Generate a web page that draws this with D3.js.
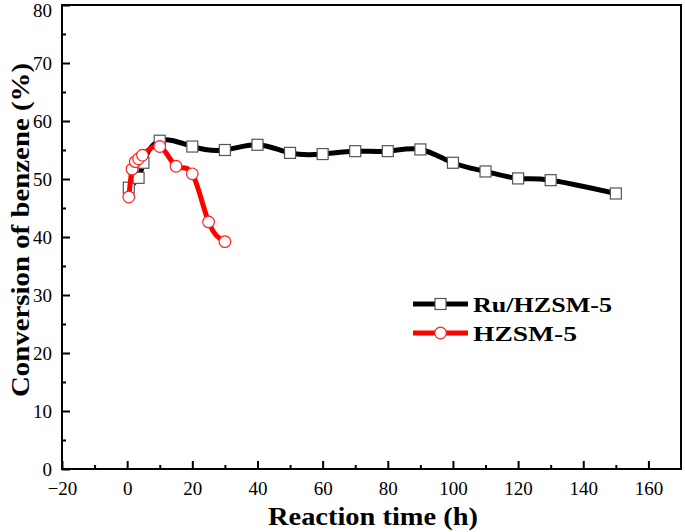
<!DOCTYPE html>
<html><head><meta charset="utf-8">
<script src="https://cdn.jsdelivr.net/npm/d3@7"></script>
<style>body{margin:0;background:#fff}svg{display:block}</style>
</head><body>
<svg id="c" width="685" height="532"></svg>
<script>
const ruTime = [0.5, 3.5, 5, 10, 20, 30, 40, 50, 60, 70, 80, 90, 100, 110, 120, 130, 150];
const ruConv = [48.5, 50.2, 52.8, 56.6, 55.6, 55.0, 55.9, 54.5, 54.3, 54.8, 54.8, 55.1, 52.8, 51.3, 50.1, 49.8, 47.5];
const hTime = [0.5, 1.5, 2.5, 3.5, 4.7, 10, 15, 20, 25, 30];
const hConv = [46.9, 51.7, 53.0, 53.5, 54.1, 55.6, 52.2, 50.9, 42.6, 39.2];
const xTicks = [-20, 0, 20, 40, 60, 80, 100, 120, 140, 160];
const yTicks = [0, 10, 20, 30, 40, 50, 60, 70, 80];
const seriesNames = ["Ru/HZSM-5", "HZSM-5"];

const svg = d3.select("#c");
const L = 62, R = 681, T = 5, B = 469;
const x = d3.scaleLinear().domain([-20, 170]).range([L, R]);
const y = d3.scaleLinear().domain([0, 80]).range([B, T]);
const serif = "'Liberation Serif','Times New Roman',serif";

const xMinor = d3.range(-10, 170, 20);
const yMinor = d3.range(5, 80, 10);
const axisG = svg.append("g");
const xAxis = d3.axisBottom(x).tickValues(xTicks).tickSize(-8).tickPadding(16).tickFormat(d3.format("d"));
const gx = axisG.append("g").attr("transform", `translate(0,${B})`).call(xAxis);
gx.select(".domain").remove();
gx.selectAll(".tick line").attr("stroke", "#000").attr("stroke-width", 2);
gx.selectAll("text").attr("font-family", serif).attr("font-size", 19).attr("fill", "#000").attr("dy", "0.55em");
gx.selectAll(".tick text").text(d => d < 0 ? "\u221220" : d);
const gxm = axisG.append("g").attr("transform", `translate(0,${B})`)
  .call(d3.axisBottom(x).tickValues(xMinor).tickSize(-4).tickFormat(""));
gxm.select(".domain").remove();
gxm.selectAll(".tick line").attr("stroke", "#000").attr("stroke-width", 2);

const yAxis = d3.axisLeft(y).tickValues(yTicks).tickSize(-8).tickPadding(10).tickFormat(d3.format("d"));
const gy = axisG.append("g").attr("transform", `translate(${L},0)`).call(yAxis);
gy.select(".domain").remove();
gy.selectAll(".tick line").attr("stroke", "#000").attr("stroke-width", 2);
gy.selectAll("text").attr("font-family", serif).attr("font-size", 19).attr("fill", "#000")
  .attr("dy", d => d === 80 ? "0.62em" : "0.32em");
const gym = axisG.append("g").attr("transform", `translate(${L},0)`)
  .call(d3.axisLeft(y).tickValues(yMinor).tickSize(-4).tickFormat(""));
gym.select(".domain").remove();
gym.selectAll(".tick line").attr("stroke", "#000").attr("stroke-width", 2);

svg.append("rect").attr("x", L).attr("y", T).attr("width", R - L).attr("height", B - T)
  .attr("fill", "none").attr("stroke", "#000").attr("stroke-width", 2);

const line = d3.line().x(d => x(d[0])).y(d => y(d[1])).curve(d3.curveNatural);
const ru = ruTime.map((t, i) => [t, ruConv[i]]);
const hz = hTime.map((t, i) => [t, hConv[i]]);

svg.append("path").datum(ru).attr("d", line).attr("fill", "none").attr("stroke", "#000").attr("stroke-width", 5);
svg.append("g").selectAll("rect").data(ru).join("rect")
  .attr("x", d => x(d[0]) - 5.5).attr("y", d => y(d[1]) - 5.5).attr("width", 11).attr("height", 11)
  .attr("fill", "#fff").attr("stroke", "#555").attr("stroke-width", 1.2);

svg.append("path").datum(hz).attr("d", line).attr("fill", "none").attr("stroke", "#ff0000").attr("stroke-width", 5);
svg.append("g").selectAll("circle").data(hz).join("circle")
  .attr("cx", d => x(d[0])).attr("cy", d => y(d[1])).attr("r", 5.8)
  .attr("fill", "#fff").attr("stroke", "#ff2020").attr("stroke-width", 1.2);

const leg = svg.append("g");
const lgY = [304, 333];
const lgCol = ["#000", "#ff0000"];
const lgLen = [139, 104];
seriesNames.forEach((n, i) => {
  leg.append("line").attr("x1", 413).attr("x2", 468).attr("y1", lgY[i]).attr("y2", lgY[i])
    .attr("stroke", lgCol[i]).attr("stroke-width", 5);
  if (i === 0) {
    leg.append("rect").attr("x", 440.5 - 5.5).attr("y", lgY[i] - 5.5).attr("width", 11).attr("height", 11)
      .attr("fill", "#fff").attr("stroke", "#555").attr("stroke-width", 1.2);
  } else {
    leg.append("circle").attr("cx", 440.5).attr("cy", lgY[i]).attr("r", 5.8)
      .attr("fill", "#fff").attr("stroke", "#ff2020").attr("stroke-width", 1.2);
  }
  leg.append("text").attr("x", 473).attr("y", lgY[i]).attr("dy", "0.36em")
    .attr("font-family", serif).attr("font-weight", "bold").attr("font-size", 21)
    .attr("textLength", lgLen[i]).attr("lengthAdjust", "spacingAndGlyphs").text(n);
});

svg.append("text").attr("x", 373).attr("y", 525).attr("text-anchor", "middle")
  .attr("font-family", serif).attr("font-weight", "bold").attr("font-size", 25)
  .attr("textLength", 210).attr("lengthAdjust", "spacingAndGlyphs").text("Reaction time (h)");
svg.append("text").attr("transform", "translate(29,230) rotate(-90)").attr("text-anchor", "middle")
  .attr("font-family", serif).attr("font-weight", "bold").attr("font-size", 26)
  .attr("textLength", 334).attr("lengthAdjust", "spacingAndGlyphs").text("Conversion of benzene (%)");
</script>
</body></html>
